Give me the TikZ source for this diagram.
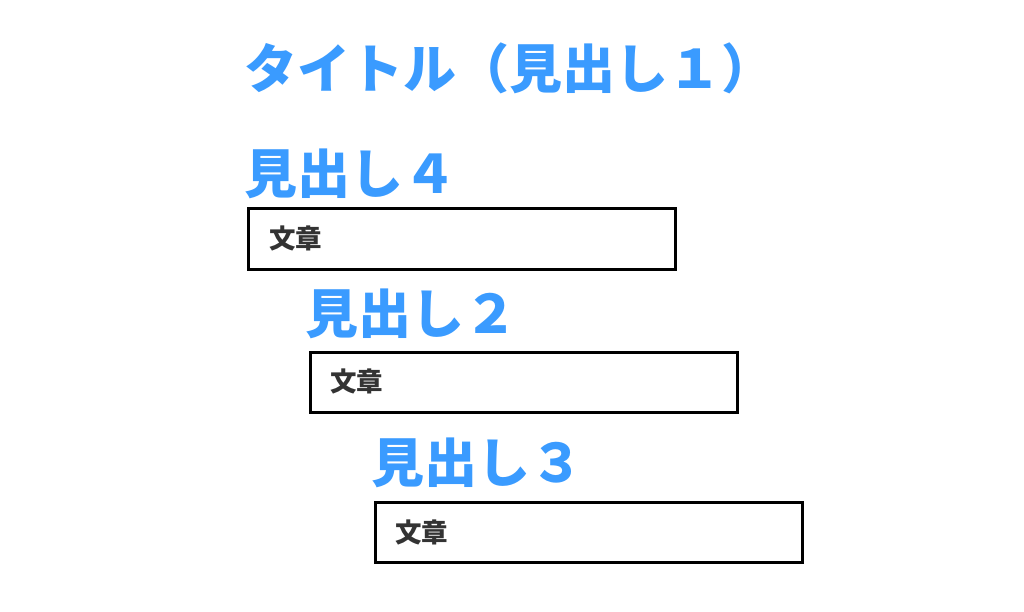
\documentclass[tikz,border=0pt]{standalone}
\usepackage{fontspec}
\newfontfamily\jp{Noto Sans CJK JP}
\definecolor{headblue}{HTML}{3A9BFF}
\definecolor{bodygray}{HTML}{333333}
\begin{document}
\begin{tikzpicture}[x=1pt,y=-1pt,
  heading/.style={anchor=west,inner sep=0pt,text=headblue,font=\jp\bfseries\fontsize{53}{60}\selectfont},
  body/.style={anchor=west,inner sep=0pt,text=bodygray,font=\jp\bfseries\fontsize{26.5}{30}\selectfont},
  textbox/.style={draw=black,line width=3pt}]
\useasboundingbox[fill=white] (0,0) rectangle (1024,612);
\node[heading] (title) at (244,68.5) {タイトル（見出し１）};
\node[heading] (h4) at (244,174) {見出し４};
\draw[textbox] (248,209) rectangle (675,269);
\node[body] (t4) at (269,238.5) {文章};
\node[heading] (h2) at (305,314) {見出し２};
\draw[textbox] (310,352) rectangle (737,412);
\node[body] (t2) at (330,381.5) {文章};
\node[heading] (h3) at (371,463) {見出し３};
\draw[textbox] (375,502) rectangle (802,562);
\node[body] (t3) at (395,532) {文章};
\end{tikzpicture}
\end{document}
